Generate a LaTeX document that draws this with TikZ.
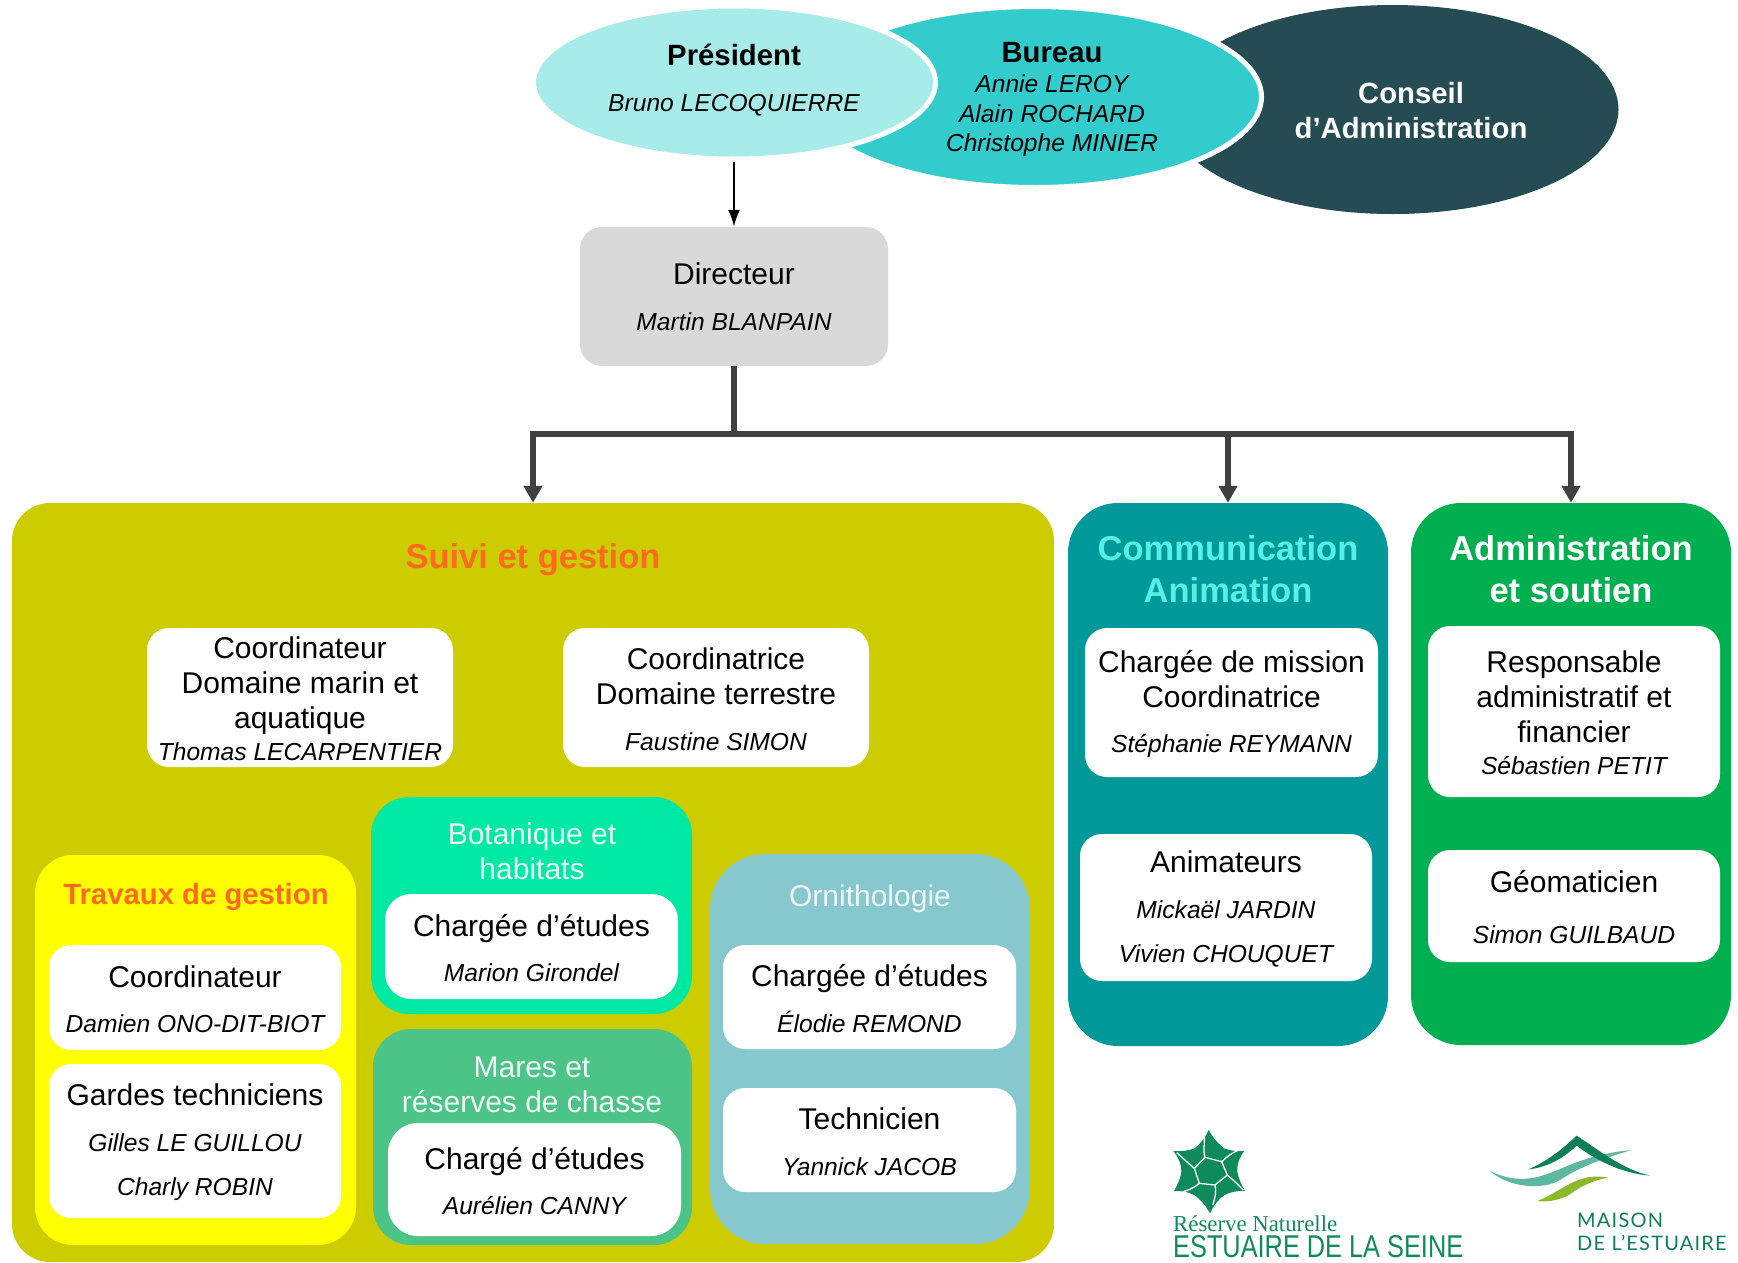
\documentclass[tikz,border=0pt]{standalone}
\usepackage{fontspec}
\setmainfont{Liberation Sans}
\newfontfamily\logoserif{Liberation Serif}
\newfontfamily\logosans[LetterSpace=6]{Lato}
\usetikzlibrary{shapes.geometric,arrows.meta}
\definecolor{cPres}{HTML}{A8ECE9}
\definecolor{cBur}{HTML}{33CCCC}
\definecolor{cCA}{HTML}{244C52}
\definecolor{cSuivi}{HTML}{CCCC00}
\definecolor{cComm}{HTML}{009999}
\definecolor{cAdm}{HTML}{00B050}
\definecolor{cOr}{HTML}{FF6A21}
\definecolor{cTrav}{HTML}{FFFF00}
\definecolor{cBot}{HTML}{00E9A3}
\definecolor{cMar}{HTML}{4DC487}
\definecolor{cOrn}{HTML}{86C8CE}
\definecolor{cLink}{HTML}{404040}
\definecolor{cLogo}{HTML}{0F8A5B}
\definecolor{cDark}{HTML}{0F7F58}
\definecolor{cWave}{HTML}{5DB8A0}
\definecolor{cLeaf}{HTML}{8CB92A}
\definecolor{cTitle}{HTML}{56F0E6}
\newcommand{\nm}[1]{{\itshape\fontsize{24.6}{35}\selectfont #1}}
\tikzset{
 txt/.style={font=\fontsize{30}{35}\selectfont,align=center,inner sep=0pt,text=black},
 btxt/.style={txt,font=\fontsize{29.3}{35}\selectfont\bfseries},
 ell/.style={ellipse,inner sep=0pt},
 wbox/.style={fill=white,rounded corners=#1,inner sep=0pt},
 panel/.style={rounded corners=#1,inner sep=0pt},
 ttl/.style={font=\fontsize{34.5}{41.5}\selectfont\bfseries,align=center,inner sep=0pt},
 sub/.style={txt,text=#1},
 link/.style={draw=cLink,line width=6pt},
 tip/.style={-{Triangle[length=17pt,width=18pt]}},
 thin link/.style={draw=black,line width=2pt,-{Latex[length=17pt,width=12pt]}},
 vein/.style={draw=white,line width=1.3pt,line join=round},
}
\newcommand{\wb}[7][22pt]{% radius name x0 y0 x1 y1 text
 \node[wbox=#1,minimum width=#5pt-#3pt,minimum height=#6pt-#4pt] (#2) at ({(#3+#5)/2},{(#4+#6)/2}) {};
 \node[txt] (#2t) at ([yshift=-1.5pt]#2.center) {#7};}
\newcommand{\pn}[7]{% name radius color x0 y0 x1 y1
 \node[panel=#2pt,fill=#3,minimum width=#6pt-#4pt,minimum height=#7pt-#5pt] (#1) at ({(#4+#6)/2},{(#5+#7)/2}) {};}
\begin{document}
\begin{tikzpicture}[x=1pt,y=-1pt]
\useasboundingbox (0,0) rectangle (1738,1262);
% ellipses
\node[ell,fill=cCA,minimum width=452pt,minimum height=209pt] (ca) at (1392.5,109.5) {};
\node[ell,fill=cBur,draw=white,line width=5pt,minimum width=453pt,minimum height=181pt] (bur) at (1035,97) {};
\node[ell,fill=cPres,draw=white,line width=5pt,minimum width=402pt,minimum height=153pt] (pres) at (734.5,82.5) {};
\node[btxt] (tpres) at (734,55) {Président};
\node[txt] (npres) at (734,105) {\nm{Bruno LECOQUIERRE}};
\node[btxt] (tbur) at (1052,53) {Bureau};
\node[txt,font=\fontsize{24.6}{29.5}\selectfont\itshape] (nbur) at (1052,116) {Annie LEROY\\Alain ROCHARD\\Christophe MINIER};
\node[btxt,text=white] (tca) at (1411,111) {Conseil\\d’Administration};
% directeur
\node[wbox=22pt,fill=black!15,minimum width=308pt,minimum height=139pt] (dir) at (734,296.5) {};
\node[txt] (dirt) at (dir.center) {Directeur\\[10.5pt]\nm{Martin BLANPAIN}};
\coordinate (dirin) at (dir.north |- 0,162);
\draw[thin link] (dirin) -- (dir.north);
% panels
\pn{suivi}{38}{cSuivi}{12}{503}{1054}{1262}
\pn{comm}{50}{cComm}{1068}{503}{1388}{1046}
\pn{adm}{50}{cAdm}{1411}{503}{1731}{1045}
% connectors
\coordinate (busL) at (suivi.north |- 0,434);
\coordinate (busM) at (comm.north |- 0,434);
\coordinate (busR) at (adm.north |- 0,434);
\coordinate (busT) at (dir.south |- 0,434);
\draw[link] (dir.south) -- (busT);
\draw[link,tip] (busT) -- (busL) -- (suivi.north);
\draw[link,tip] (busT) -- (busM) -- (comm.north);
\draw[link,tip] (busT) -- (busR) -- (adm.north);
% titles
\node[ttl,text=cOr] (tsuivi) at (533,560) {Suivi et gestion};
\node[ttl,text=cTitle] (tcomm) at (1228,569) {Communication\\Animation};
\node[ttl,text=white] (tadm) at (1571,569) {Administration\\et soutien};
% coordinateurs
\wb{cmar}{147}{628}{453}{767}{Coordinateur\\Domaine marin et\\aquatique\\[-3pt]\nm{Thomas LECARPENTIER}}
\wb{cter}{563}{628}{869}{767}{Coordinatrice\\Domaine terrestre\\[10.5pt]\nm{Faustine SIMON}}
% travaux
\pn{trav}{38}{cTrav}{35}{855}{356}{1245}
\node[txt,text=cOr,font=\fontsize{29.3}{35}\selectfont\bfseries] (ttrav) at (196,897) {Travaux de gestion};
\wb{ctrav}{49}{945}{341}{1050}{Coordinateur\\[10.5pt]\nm{Damien ONO-DIT-BIOT}}
\wb{gard}{49}{1064}{341}{1218}{Gardes techniciens\\[11pt]\nm{Gilles LE GUILLOU}\\[9pt]\nm{Charly ROBIN}}
% botanique
\pn{bot}{38}{cBot}{371}{797}{692}{1014}
\node[sub=white!92!cBot] (tbot) at (532,851) {Botanique et\\habitats};
\wb[26pt]{cbot}{385}{894}{678}{999}{Chargée d’études\\[10.5pt]\nm{Marion Girondel}}
% mares
\pn{mar}{38}{cMar}{373}{1029}{692}{1245}
\node[sub=white!92!cMar] (tmar) at (532,1085) {Mares et\\réserves de chasse};
\wb[30pt]{cmarres}{388}{1123}{681}{1236}{Chargé d’études\\[10.5pt]\nm{Aurélien CANNY}}
% ornithologie
\pn{orn}{55}{cOrn}{710}{854}{1030}{1244}
\node[sub=white!85!cOrn] (torn) at (870,899) {Ornithologie};
\wb{corn}{723}{945}{1016}{1049}{Chargée d’études\\[10.5pt]\nm{Élodie REMOND}}
\wb{torn2}{723}{1088}{1016}{1192}{Technicien\\[10.5pt]\nm{Yannick JACOB}}
% communication
\wb{ccomm}{1085}{628}{1378}{777}{Chargée de mission\\Coordinatrice\\[10.5pt]\nm{Stéphanie REYMANN}}
\wb{anim}{1080}{834}{1372}{981}{Animateurs\\[11pt]\nm{Mickaël JARDIN}\\[9pt]\nm{Vivien CHOUQUET}}
% administration
\wb{resp}{1428}{626}{1720}{797}{Responsable\\administratif et\\financier\\[-3pt]\nm{Sébastien PETIT}}
\wb{geo}{1428}{850}{1720}{962}{Géomaticien\\[16pt]\nm{Simon GUILBAUD}}
% logo reserve
\begin{scope}[shift={(1160,1120)},scale=0.3333]
\fill[cLogo] (146,30) .. controls (160,55) and (175,72) .. (192,85) .. controls (210,92) and (232,95) .. (253,93) .. controls (238,112) and (230,135) .. (232,155) .. controls (235,175) and (245,195) .. (255,213) .. controls (235,212) and (210,215) .. (192,226) .. controls (175,238) and (160,258) .. (150,280) .. controls (138,258) and (122,238) .. (104,226) .. controls (85,215) and (62,212) .. (42,213) .. controls (52,195) and (62,175) .. (64,155) .. controls (65,135) and (55,112) .. (40,93) .. controls (62,95) and (85,92) .. (104,85) .. controls (120,72) and (135,55) .. (146,30) -- cycle;
\draw[vein] (135,112) -- (185,125) -- (202,165) -- (165,195) -- (118,190) -- (103,145) -- cycle;
\draw[vein] (135,112) .. controls (128,90) and (135,70) .. (133,50);
\draw[vein] (185,125) .. controls (200,110) and (215,100) .. (232,92);
\draw[vein] (202,165) .. controls (220,180) and (235,195) .. (250,210);
\draw[vein] (165,195) .. controls (170,215) and (165,235) .. (158,255);
\draw[vein] (118,190) .. controls (100,205) and (85,210) .. (70,215);
\draw[vein] (103,145) .. controls (85,130) and (70,115) .. (50,98);
\end{scope}
\node[inner sep=0pt,anchor=base west,text=cLogo,font=\logoserif] (lr1) at (1173,1231) {\resizebox{164pt}{!}{Réserve Naturelle}};
\node[inner sep=0pt,anchor=base west,text=cLogo] (lr2) at (1173,1257) {\resizebox{290pt}{22pt}{ESTUAIRE DE LA SEINE}};
% logo maison
\begin{scope}[shift={(1480,1125)},scale=0.3333]
\fill[cWave] (28,137) .. controls (70,158) and (110,165) .. (150,160) .. controls (230,150) and (290,90) .. (455,75) .. controls (370,100) and (300,125) .. (240,165) .. controls (190,195) and (90,190) .. (28,137) -- cycle;
\fill[cDark] (145,133) .. controls (200,110) and (250,70) .. (290,32) .. controls (350,70) and (420,130) .. (510,152) .. controls (420,145) and (340,100) .. (290,62) .. controls (250,100) and (200,128) .. (145,133) -- cycle;
\fill[cLeaf] (172,228) .. controls (240,200) and (270,165) .. (330,156) .. controls (350,153) and (370,155) .. (385,158) .. controls (340,165) and (300,185) .. (270,208) .. controls (240,226) and (200,232) .. (172,228) -- cycle;
\end{scope}
\node[inner sep=0pt,anchor=base west,text=cDark,font=\logosans\fontsize{20}{22}\selectfont] (lm1) at (1577,1227) {MAISON};
\node[inner sep=0pt,anchor=base west,text=cDark,font=\logosans\fontsize{20}{22}\selectfont] (lm2) at (1577,1250) {DE L’ESTUAIRE};
\end{tikzpicture}
\end{document}
